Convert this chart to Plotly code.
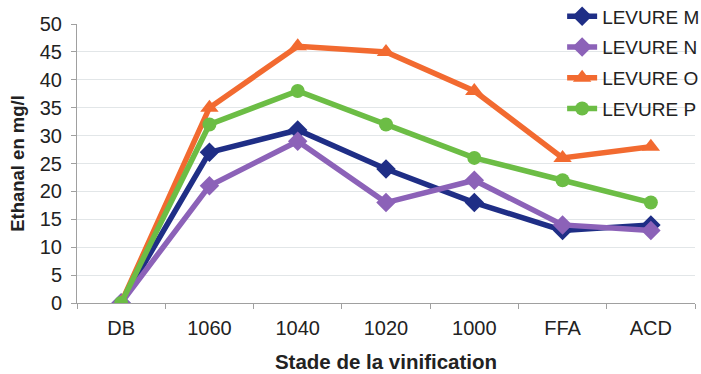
import plotly.graph_objects as go

stages = ["DB", "1060", "1040", "1020", "1000", "FFA", "ACD"]
levure_m = [0, 27, 31, 24, 18, 13, 14]
levure_n = [0, 21, 29, 18, 22, 14, 13]
levure_o = [0, 35, 46, 45, 38, 26, 28]
levure_p = [0, 32, 38, 32, 26, 22, 18]

series = [
    ("LEVURE M", levure_m, "#1f2e86", "diamond", 15),
    ("LEVURE N", levure_n, "#8c62b8", "diamond", 15),
    ("LEVURE O", levure_o, "#f26a30", "triangle-up", 16),
    ("LEVURE P", levure_p, "#6cbd45", "circle", 14),
]

fig = go.Figure()
for name, vals, color, symbol, size in series:
    fig.add_trace(go.Scatter(
        x=stages, y=vals, name=name, legendgroup=name, mode="lines+markers",
        line=dict(color=color, width=5.5),
        marker=dict(symbol=symbol, size=size, color=color),
    ))

font_family = "Liberation Sans, Arial, sans-serif"
fig.update_layout(
    width=701, height=374,
    margin=dict(l=77, r=6, t=24, b=71, autoexpand=False),
    plot_bgcolor="white", paper_bgcolor="white",
    font=dict(family=font_family, color="#222222"),
    showlegend=True,
    legend=dict(
        x=0.785, y=1.095, xanchor="left", yanchor="top",
        bgcolor="rgba(255,255,255,0)",
        font=dict(size=19, color="#222222"),
        tracegroupgap=3,
    ),
    xaxis=dict(
        title=dict(text="<b>Stade de la vinification</b>", font=dict(size=20.5), standoff=16),
        tickfont=dict(size=20),
        ticklabelstandoff=7,
        showline=True, linecolor="#a0a0a0", linewidth=1,
        ticks="outside", tickson="boundaries", ticklen=5, tickcolor="#a0a0a0",
        showgrid=False, zeroline=False,
        range=[-0.5, 6.5],
    ),
    yaxis=dict(
        title=dict(text="<b>Ethanal en mg/l</b>", font=dict(size=18.5), standoff=10),
        tickfont=dict(size=20),
        ticklabelstandoff=5,
        range=[0, 50], dtick=5,
        showline=True, linecolor="#a0a0a0", linewidth=1,
        ticks="outside", ticklen=5, tickcolor="#a0a0a0",
        showgrid=True, gridcolor="#e2e6e8", gridwidth=1,
        zeroline=False,
    ),
)

fig.write_html("out.html")
